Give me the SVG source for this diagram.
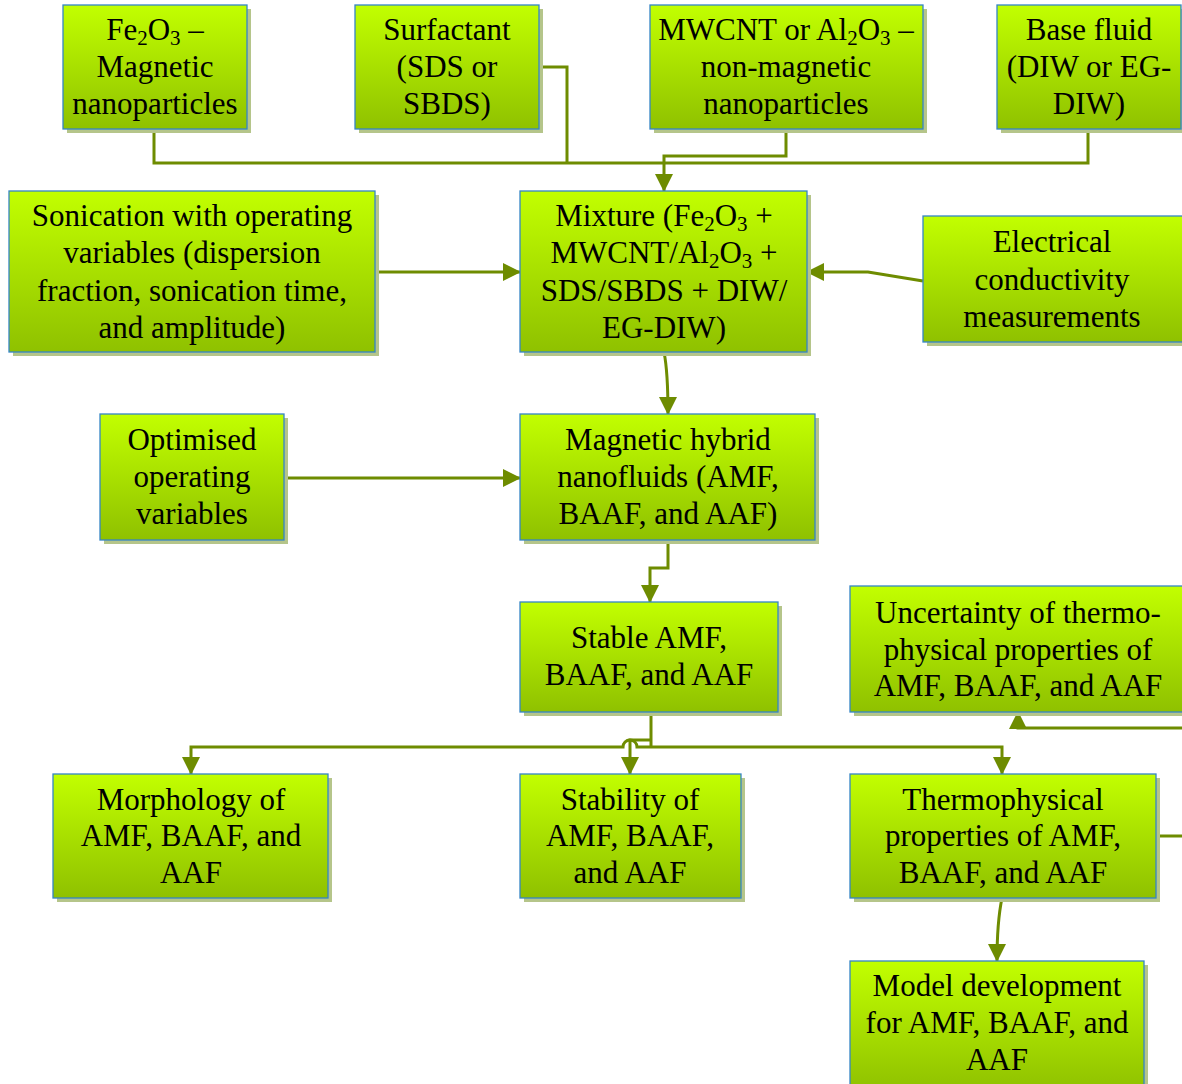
<svg xmlns="http://www.w3.org/2000/svg" width="1182" height="1084" viewBox="0 0 1182 1084" font-family="Liberation Serif, DejaVu Serif, serif">
<defs>
<linearGradient id="g" x1="0" y1="0" x2="0" y2="1">
<stop offset="0" stop-color="#c2ff00"/>
<stop offset="1" stop-color="#8fc100"/>
</linearGradient>
<marker id="ah" markerUnits="userSpaceOnUse" markerWidth="18" markerHeight="18" refX="17" refY="9" orient="auto">
<path d="M0,0 L18,9 L0,18 z" fill="#6e8c00"/>
</marker>
</defs>
<style>
.sh{fill:#b5c58a}
.bx{fill:url(#g);stroke:#3585c6;stroke-width:1.3}
text{font-family:'Liberation Serif',serif;font-size:31px;fill:#000;text-anchor:middle}
.s{font-size:21px}
.c{fill:none;stroke:#6e8c00;stroke-width:3}
.a{marker-end:url(#ah)}
</style>
<rect width="1182" height="1084" fill="#fff"/>
<g id="connectors">
<path class="c" d="M154,129 V163 H1088 V129"/>
<path class="c" d="M539,67 H567 V163"/>
<path class="c a" d="M786,129 V156 H664 V191"/>
<path class="c a" d="M375,272 H520"/>
<path class="c a" d="M923,281 L868,272 H807"/>
<path class="c a" d="M664,352 Q668,372 668,414"/>
<path class="c a" d="M284,478 H520"/>
<path class="c a" d="M668,540 V568 H650 V602"/>
<path class="c" d="M651,712 V747"/>
<path class="c a" d="M651,747 H637 A7,7 0 0 0 623,747 H191 V774"/>
<path class="c a" d="M651,747 H1002 V774"/>
<path class="c a" d="M651,740 H630 V774"/>
<path class="c a" d="M1156,836 H1184 V728 H1018 V712"/>
<path class="c a" d="M1002,898 Q997,922 997,961"/>
</g>
<g id="n1"><rect class="sh" x="67" y="9" width="184" height="124"/><rect class="bx" x="63" y="5" width="184" height="124"/>
<text x="155" y="40">Fe<tspan class="s" dy="5">2</tspan><tspan dy="-5">O</tspan><tspan class="s" dy="5">3</tspan><tspan dy="-5"> –</tspan></text><text x="155" y="77">Magnetic</text><text x="155" y="114">nanoparticles</text></g>
<g id="n2"><rect class="sh" x="359" y="9" width="184" height="124"/><rect class="bx" x="355" y="5" width="184" height="124"/>
<text x="447" y="40">Surfactant</text><text x="447" y="77">(SDS or</text><text x="447" y="114">SBDS)</text></g>
<g id="n3"><rect class="sh" x="654" y="9" width="273" height="124"/><rect class="bx" x="650" y="5" width="273" height="124"/>
<text x="786" y="40">MWCNT or Al<tspan class="s" dy="5">2</tspan><tspan dy="-5">O</tspan><tspan class="s" dy="5">3</tspan><tspan dy="-5"> –</tspan></text><text x="786" y="77">non-magnetic</text><text x="786" y="114">nanoparticles</text></g>
<g id="n4"><rect class="sh" x="1001" y="9" width="184" height="124"/><rect class="bx" x="997" y="5" width="184" height="124"/>
<text x="1089" y="40">Base fluid</text><text x="1089" y="77">(DIW or EG-</text><text x="1089" y="114">DIW)</text></g>
<g id="n5"><rect class="sh" x="13" y="195" width="366" height="161"/><rect class="bx" x="9" y="191" width="366" height="161"/>
<text x="192" y="226">Sonication with operating</text><text x="192" y="263">variables (dispersion</text><text x="192" y="301">fraction, sonication time,</text><text x="192" y="338">and amplitude)</text></g>
<g id="n6"><rect class="sh" x="524" y="195" width="287" height="161"/><rect class="bx" x="520" y="191" width="287" height="161"/>
<text x="664" y="226">Mixture (Fe<tspan class="s" dy="5">2</tspan><tspan dy="-5">O</tspan><tspan class="s" dy="5">3</tspan><tspan dy="-5"> +</tspan></text><text x="664" y="263">MWCNT/Al<tspan class="s" dy="5">2</tspan><tspan dy="-5">O</tspan><tspan class="s" dy="5">3</tspan><tspan dy="-5"> +</tspan></text><text x="664" y="301">SDS/SBDS + DIW/</text><text x="664" y="338">EG-DIW)</text></g>
<g id="n7"><rect class="sh" x="927" y="220" width="258" height="126"/><rect class="bx" x="923" y="216" width="260" height="126"/>
<text x="1052" y="252">Electrical</text><text x="1052" y="290">conductivity</text><text x="1052" y="327">measurements</text></g>
<g id="n8"><rect class="sh" x="104" y="418" width="184" height="126"/><rect class="bx" x="100" y="414" width="184" height="126"/>
<text x="192" y="450">Optimised</text><text x="192" y="487">operating</text><text x="192" y="524">variables</text></g>
<g id="n9"><rect class="sh" x="524" y="418" width="295" height="126"/><rect class="bx" x="520" y="414" width="295" height="126"/>
<text x="668" y="450">Magnetic hybrid</text><text x="668" y="487">nanofluids (AMF,</text><text x="668" y="524">BAAF, and AAF)</text></g>
<g id="n10"><rect class="sh" x="524" y="606" width="258" height="110"/><rect class="bx" x="520" y="602" width="258" height="110"/>
<text x="649" y="648">Stable AMF,</text><text x="649" y="685">BAAF, and AAF</text></g>
<g id="n11"><rect class="sh" x="854" y="590" width="332" height="126"/><rect class="bx" x="850" y="586" width="336" height="126"/>
<text x="1018" y="623">Uncertainty of thermo-</text><text x="1018" y="660">physical properties of</text><text x="1018" y="696">AMF, BAAF, and AAF</text></g>
<g id="n12"><rect class="sh" x="57" y="778" width="275" height="124"/><rect class="bx" x="53" y="774" width="275" height="124"/>
<text x="191" y="810">Morphology of</text><text x="191" y="846">AMF, BAAF, and</text><text x="191" y="883">AAF</text></g>
<g id="n13"><rect class="sh" x="524" y="778" width="221" height="124"/><rect class="bx" x="520" y="774" width="221" height="124"/>
<text x="630" y="810">Stability of</text><text x="630" y="846">AMF, BAAF,</text><text x="630" y="883">and AAF</text></g>
<g id="n14"><rect class="sh" x="854" y="778" width="306" height="124"/><rect class="bx" x="850" y="774" width="306" height="124"/>
<text x="1003" y="810">Thermophysical</text><text x="1003" y="846">properties of AMF,</text><text x="1003" y="883">BAAF, and AAF</text></g>
<g id="n15"><rect class="sh" x="854" y="965" width="294" height="130"/><rect class="bx" x="850" y="961" width="294" height="130"/>
<text x="997" y="996">Model development</text><text x="997" y="1033">for AMF, BAAF, and</text><text x="997" y="1070">AAF</text></g>
</svg>
